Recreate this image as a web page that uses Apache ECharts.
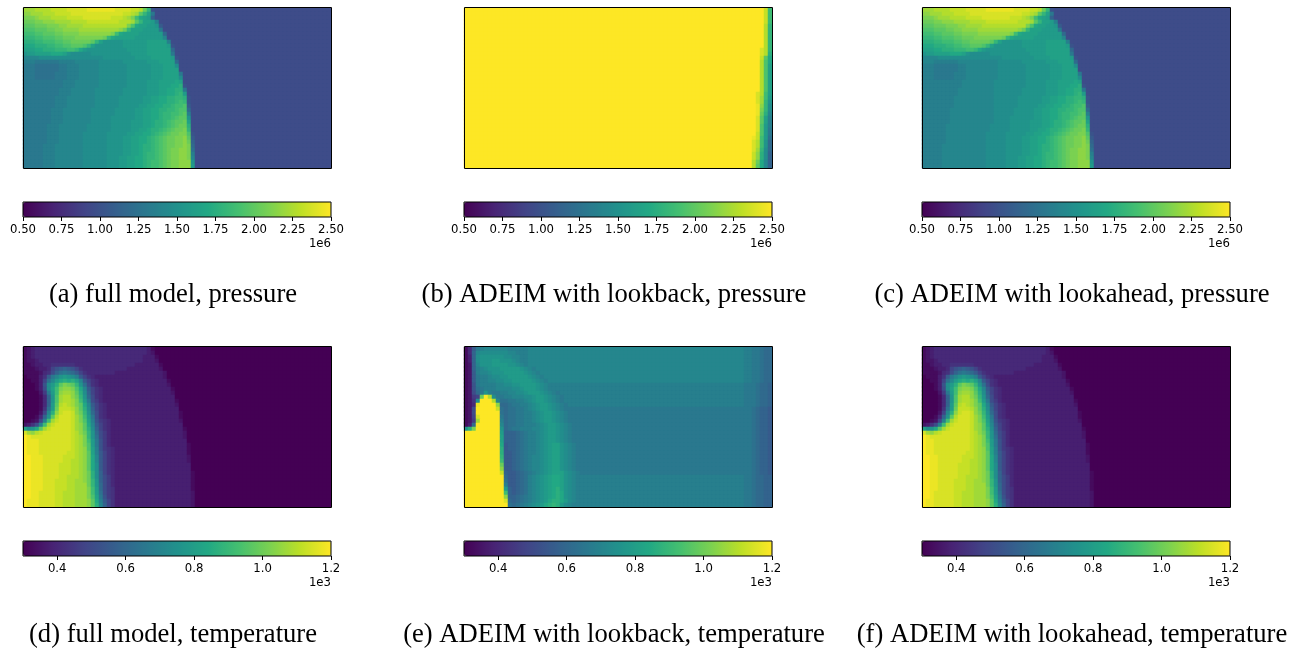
<!DOCTYPE html>
<html><head><meta charset="utf-8">
<style>html,body{margin:0;padding:0;background:#fff}#c{width:1306px;height:648px}</style>
<script src="https://cdn.jsdelivr.net/npm/echarts@6/dist/echarts.min.js"></script>
</head><body><div id="c"></div>
<script>
// Field levels: one character per cell, base-36 (0..z = bottom..top of colour range); x{n} = run of n cells.
const pressureFull = [
"uuuvvvvwwwwxxxxxyyyyyyyxxxxwwvrn9","ttuuuvvvwwwwxxxxxxxxxxxxxwwvuqnke","ssstuuuvvvvwwwwxxxxxxxwwwvusolkjb","rrrsstttuuuuvvvvwwwwwwwwvvvuqnkkjf",
"qqqrrrsssttuuuuvvvvvvvvvvvsplkkjjia","pppqqqrrssttttuuuuuuuuuutrnkkkjjjje","oooppqqqrrssssttttttttsolkkkkjjjjjjc","nnnoopppqqrrrsssssssrnlkkkkkjjjjjjjg",
"mmmnnoooppqqrrrrrqnkiiiiijjjjjjkkkkkf","lllmmmnnooppqqqpnkiiiiiiijjjjjjkkkkkj9","kkkllmmmnnnoonljiiiiiiiiiijjjjjkkkkkkc","ijjkkkklllkihhhhhiiiiiiiiiijjjjkkkkkke",
"gggghhhhhhhhhhhhhhhhiiiiiiiijjjjkkkkkj9","fffeeeeeeffffgggggghhhhhhiiiiiijjjkkkkc","eeeddddddeefffggggghhhhhhhiiiiiijjjkkkh","eeeddddddeefffggggghhhhhhhiiiiiijjjkkkk",
"eeedddddeeefffggggghhhhhhhiiiiiijjjkkkke","eeedddddeeefffggggghhhhhhhiiiiiijjjkkkkh","eeeeeeeeeefffgggggghhhhhhhiiiiijjjkkkklk","eeeeeeeeeefffgggggghhhhhhhiiiiijjjkkkllm9",
"eeeeeeeeefffgggggghhhhhhhiiiiiijjjkkllmme","eeeeeeeeefffgggggghhhhhhhiiiiiijjjkkllmnj","eeeeeeeefffggggggghhhhhhiiiiiijjkkllmmnnm9","eeeeeeeefffggggggghhhhhhiiiiiijjkkllmmnon9",
"eeeeeeeefffggggggghhhhhhiiiiijjkkllmmnoopa","eeeeeeefffggggggghhhhhhiiiiijjkkllmmnnoppc","eeeeeeefffggggggghhhhhhiiiiijjkkllmnnoopqf","eeeeeeefffggggggghhhhhiiiiiijjkkllmnnopqqi",
"eeeeeeefffggggggghhhhhiiiiijjjkklmmnopqqrk","eeeeeefffggggggghhhhhhiiiiijjjkklmmnopqrrm","eeeeeefffggggggghhhhhhiiiiijjkklmmnopqrrsn","eeeeeefffgggggghhhhhhiiiiijjkkllmnopqrrssp9",
"eeeeeefffgggggghhhhhhiiiijjkkllmnopqrrsstqa","eeeeeefffgggggghhhhhhiiiijjkkllmnopqrrsstrb","eeeeefffggggggghhhhhhiiiijjkklmmnopqrrsstsc","eeeeefffggggggghhhhhhiiiijjkklmmnopqrssttsd",
"eeeeefffggggggghhhhhhiiiijjkklmnnopqrssttsf","eeeeefffggggggghhhhhhiiijjkkllmnnopqrssttsg","eeeeefffggggggghhhhhhiiijjkkllmnoopqrssttti","eeeeefffggggggghhhhhhiiijjkkllmnoopqrsstttj"];
const pressureLookback = [
"wo","wo","wo","wo","vn","vn","vn","vn","vn","vn","xvn","xvm","wql","vpl","vpk","vpk","vpk","vpk","vpk","vpk",
"vpk","xvok","xuoj","xuni","ytnh","ysnh","yrmg","xqkf","xqkf","xpjf","xpje","wpje","ywojd","xvoic","xvoic","xunhc","wtmhb","wtmhb","vrlgb","vqlgb"];
const pressureLookahead = [
"uuuvvvvwwwwxxxxxyyyyyyyxxxxwwvrn9","ttuuuvvvwwwwxxxxxxxxxxxxxwwvuqnke","ssstuuuvvvvwwwwxxxxxxxwwwvusolkjb","rrrsstttuuuuvvvvwwwwwwwwvvvuqnkkjf",
"qqqrrrsssttuuuuvvvvvvvvvvvsplkkjjia","pppqqqrrssttttuuuuuuuuuutrnkkkjjjje","oooppqqqrrssssttttttttsolkkkkjjjjjjc","nnnoopppqqrrrsssssssrnlkkkkkjjjjjjjg",
"mmmnnoooppqqrrrrrqnkiiiiijjjjjjkkkkkf","lllmmmnnooppqqqpnkiiiiiiijjjjjjkkkkkj9","kkkllmmmnnnoonljiiiiiiiiiijjjjjkkkkkkc","ijjkkkklllkihhhhhiiiiiiiiiijjjjkkkkkke",
"gggghhhhhhhhhhhhhhhhiiiiiiiijjjjkkkkkj9","gggffffffgggggggggghhhhhhiiiiiijjjkkkkc","fffeeeeeeffgggggggghhhhhhhiiiiiijjjkkkh","fffeeeeeeffgggggggghhhhhhhiiiiiijjjkkkk",
"fffeeeeefffgggggggghhhhhhhiiiiiijjjkkkke","fffeeeeefffgggggggghhhhhhhiiiiiijjjkkkkh","ffffffffffgggggggghhhhhhhhiiiiijjjkkkklk","ffffffffffgggggggghhhhhhhhiiiiijjjkkkllm9",
"fffffffffggggggggghhhhhhhiiiiiijjjkkllmme","fffffffffggggggggghhhhhhhiiiiiijjjkkllmnj","ffffffffgggggggggghhhhhhiiiiiijjkkllmmnnm9","ffffffffgggggggggghhhhhhiiiiiijjkkllmmnon9",
"ffffffffgggggggggghhhhhhiiiiijjkkllmmnoopa","fffffffggggggggggghhhhhiiiiijjkkllmmnnoppc","fffffffggggggggggghhhhhiiiiijjkkllmnnoopqf","fffffffggggggggggghhhhiiiiiijjkkllmnnopqqi",
"fffffffggggggggggghhhhiiiiijjjkklmmnopqqrk","ffffffggggggggggghhhhhiiiiijjjkklmmnopqrrm","ffffffggggggggggghhhhhiiiiijjkklmmnopqrrsn","ffffffgggggggggghhhhhiiiiijjkkllmnopqrrssp9",
"ffffffgggggggggghhhhhiiiijjkkllmnopqrrsstqa","ffffffgggggggggghhhhhiiiijjkkllmnopqrrsstrb","fffffggggggggggghhhhhiiiijjkklmmnopqrrsstsc","fffffggggggggggghhhhhiiiijjkklmmnopqrssttsd",
"fffffggggggggggghhhhhiiiijjkklmnnopqrssttsf","fffffggggggggggghhhhhiiijjkkllmnnopqrssttsg","fffffggggggggggghhhhhiiijjkkllmnoopqrssttti","fffffggggggggggghhhhhiiijjkkllmnoopqrsstttj"];
const temperatureFull = [
"1234{28}31","1234{28}32","1234{27}3{3}1","12234{26}3{3}2",
"112334455555544{14}3{6}1","1112334"+"79aba975"+"4{11}3{8}2","111124"+"58bdedca75"+"4{7}3{12}2","011135aegijihfa754"+"3{17}2",
"001137dgjlmlmkga754"+"3{17}1","000139hjmqsrqnid854"+"3{17}2","000138hkosttsplga754"+"3{17}1","000026ejotuutqmhb754"+"3{17}2",
"000014bipuvvtrnic854"+"3{18}","000014bipuvvusoje864"+"3{18}1","000014bjqvwvusqlga754"+"3{17}2","000015djrwwwvtqmhb754"+"3{18}",
"000027gmtwxxwtrnic854"+"3{18}1","00014biqvxxxwusoje854"+"3{18}1","00127fouwxxxwuspkf9654"+"3{17}2","2358fouwxxxxwutqlga754"+"3{18}",
"khilquwxxxxxwutqmhb754"+"3{18}1","xutvwxxxxxxxwvtrnic864"+"3{18}2","zyxxxxxxxxxxwvusnid864"+"3{18}2","zyyyxxxxxxxxwvusoje964"+"3{19}",
"zyyyxxxxxxxxwvuspje964"+"3{19}1","zyyyxxxxxxxxwvutpkf9654"+"3{18}1","zyyyxxxxxxxwwvutqkfa754"+"3{18}1","zzyyyxxxxxwwwvutqlga754"+"3{18}2",
"zzyyyxxxxxwwvvutqlga754"+"3{18}2","zzyyyxxxxwwwvvutqlha754"+"3{19}","zzyyyxxxxwwwvvutqlha754"+"3{19}","zzyyyxxxxwwwvvutrmhb754"+"3{19}1",
"zzyyyxxxxwwvvvutrmhb864"+"3{19}1","zzyyyxxxwwwvvuutrnib864"+"3{19}1","zzyyyxxxwwwvvuuurnic864"+"3{19}1","zzyyyxxxwwwvvuuusojc865"+"3{19}1",
"zzyyxxxxwwvvvuuusojd865"+"3{19}2","zzyyxxxxwwvvvuuuspke965"+"3{19}2","zyyyxxxxwwvvvuuutqlfa75"+"3{19}2","zyyyxxxxwwvvvuuutqmgb75"+"3{19}2"];
const temperatureLookback = [
"14aefggggggfffff"+"g{52}ggffeedcc","14bghhhhhhhggfff"+"g{52}ggffeedcc","13bhiiiiiihhggff"+"g{52}ggffeedcc","13bhiiijjiiihgff"+"g{52}ggffeedcc",
"12bgiiijjjjiihgf"+"g{52}ggffeedcc","12bfghiiijjjjjihgf"+"g{50}ggffeedcc","12afgghiiijjjjjihgf"+"g{49}ggffeedcc","12aeffghhiijjjjjihgf"+"g{48}ggffeedcc",
"12aeffgghhiijjjjjihgf"+"g{47}ggffeedcc","129effffgghhiijjjjihgf"+"f{46}ffeeedccb","129defffgggghhijjjihgf"+"f{46}ffeeedccb","128ceifeeffgghhijjjihgfe"+"f{44}ffeeedccb",
"1267rzvheeffggghhijjihgfe"+"f{43}ffeeedccb","125hzzzvgddeeffghijjihgfe"+"f{43}ffeeedccb","124yzzzztccdeeffghijjihgfe"+"f{42}ffeeedccb","128zzzzzwdcddeefghijjihgfe"+"e{42}eeeedcbba",
"128zzzzzzdcddeeffghijjihgfe"+"e{41}eeeedcbba","127xzzzzzecddeeffghijjihgfe"+"e{41}eeeedcbba","126uzzzzzfcddeeffghijjihgfe"+"e{41}eeeedcbba","13czzzzzzgcddeefffghijjihgfe"+"e{40}eeeedcbba",
"imszzzzzzicdeefffgghijjihgfe"+"e{40}eeeedcbba","zzzzzzzzzjbbbcdeffghijjihgfe"+"e{40}eeeedcbba","zzzzzzzzzkbbbcdeffghijjihgfe"+"e{40}eeeedcbba","zzzzzzzzzkbbbcdeffghijjihgfe"+"e{40}eeeedcbba",
"zzzzzzzzzlabbcdeffghijkkihgfe"+"e{39}eeeedcbba","zzzzzzzzzmabbcdeffghijkkihgfe"+"e{39}eeeedcbba","zzzzzzzzzmaabcdeffghijkkihgfe"+"e{39}eeeedcbba","zzzzzzzzznaabcdefgghijkkihgfe"+"e{39}eeeedcbba",
"zzzzzzzzzoaabcdefgghijkkihgfe"+"e{39}eeeedcbba","zzzzzzzzzraabcdefgghijkkihgfe"+"e{39}eeeedcbba","zzzzzzzzztaabcdefgghijkkihgfe"+"e{39}eeeedcbba","zzzzzzzzzwbaabcdefghijkkkihgf"+"e{39}eeeedcbba",
"zzzzzzzzzzcaabcdfghijkllkihgf"+"f{39}ffeedccbb","zzzzzzzzzzdaabcdfghijkllkihgf"+"f{39}ffeedccbb","zzzzzzzzzzfaabcdfghijkllkihgf"+"f{39}ffeedccbb","zzzzzzzzzzjbabcdfghijklmkihgf"+"f{39}ffeedccbb",
"zzzzzzzzzzobabcdfghijklmlihgf"+"f{39}ffeedccbb","zzzzzzzzzztbbcdefghijklmlihgf"+"f{39}ffeedccbb","zzzzzzzzzzxcbcdefghijlmmljhgf"+"f{39}ffeedccbb","zzzzzzzzzzzdcdefghijlmnmjhgf"+"f{40}ffeedccbb"];
const temperatureLookahead = [
"1234{28}31","1234{28}32","1234{27}3{3}1","12234{26}3{3}2",
"112334455555544{14}3{6}1","1112334"+"79aba975"+"4{11}3{8}2","111124"+"58bdedca75"+"4{7}3{12}2","011135aegijihfa754"+"3{17}2",
"001137dgjlmlmkga754"+"3{17}1","000139hjmqsrqnid854"+"3{17}2","000138hkosttsplga754"+"3{17}1","000026ejotuutqmhb754"+"3{17}2",
"000014bipuvvtrnic854"+"3{18}","000014bipuvvusoje864"+"3{18}1","000014bjqvwvusqlga754"+"3{17}2","000015djrwwwvtqmhb754"+"3{18}",
"000027gmtwxxwtrnic854"+"3{18}1","00014biqvxxxwusoje854"+"3{18}1","00127fouwxxxwuspkf9654"+"3{17}2","2358fouwxxxxwutqlga754"+"3{18}",
"khilquwxxxxxwutqmhb754"+"3{18}1","xutvwxxxxxxxwvtrnic864"+"3{18}2","zyxxxxxxxxxxwvusnid864"+"3{18}2","zyyxxxxxxxxxwvusoje964"+"3{19}",
"zyyxxxxxxxxxwvuspje964"+"3{19}1","zyyxxxxxxxxxwvutpkf9654"+"3{18}1","zyyxxxxxxxxwwvutqkfa754"+"3{18}1","zzyyxxxxxxwwwvutqlga754"+"3{18}2",
"zzyyxxxxxxwwvvutqlga754"+"3{18}2","zzyyxxxxxwwwvvutqlha754"+"3{19}","zzyyxxxxxwwwvvutqlha754"+"3{19}","zzyyxxxxxwwwvvutrmhb754"+"3{19}1",
"zzyyxxxxxwwvvvutrmhb864"+"3{19}1","zzyyxxxxwwwvvuutrnib864"+"3{19}1","zzyyxxxxwwwvvuuurnic864"+"3{19}1","zzyyxxxxwwwvvuuusojc865"+"3{19}1",
"zzyxxxxxwwvvvuuusojd865"+"3{19}2","zzyxxxxxwwvvvuuuspke965"+"3{19}2","zyyxxxxxwwvvvuuutqlfa75"+"3{19}2","zyyxxxxxwwvvvuuutqmgb75"+"3{19}2"];
const pressureTicks = [0.5,0.75,1,1.25,1.5,1.75,2,2.25,2.5];
const temperatureTicks = [0.4,0.6,0.8,1,1.2];
const captions = ["(a) full model, pressure","(b) ADEIM with lookback, pressure","(c) ADEIM with lookahead, pressure",
"(d) full model, temperature","(e) ADEIM with lookback, temperature","(f) ADEIM with lookahead, temperature"];
const viridis = ["#440154","#482475","#414487","#355f8d","#2a788e","#21918c","#22a884","#44bf70","#7ad151","#bddf26","#fde725"];

const LEVELS = "0123456789abcdefghijklmnopqrstuvwxyz";
const COLS = 77, ROWS = 40;
const cats = n => Array.from({length:n},(_,i)=>i);
function decode(rows, lo, hi, fill, fromRight){
  const out=[];
  rows.forEach((s,r)=>{
    const x = s.replace(/(.)\{(\d+)\}/g,(m,c,n)=>c.repeat(+n));
    const t = (fromRight ? x.padStart(COLS,fill) : x.padEnd(COLS,fill)).slice(0,COLS);
    for(let c=0;c<COLS;c++) out.push([c,r,+(lo+(hi-lo)*LEVELS.indexOf(t[c])/35).toFixed(4)]);
  });
  return out;
}
const panels = [
 {rows:pressureFull,lo:0.5,hi:2.5,fill:"8",ticks:pressureTicks,dec:2,exp:"1e6",col:0,row:0},
 {rows:pressureLookback,lo:0.5,hi:2.5,fill:"z",right:true,ticks:pressureTicks,dec:2,exp:"1e6",col:1,row:0},
 {rows:pressureLookahead,lo:0.5,hi:2.5,fill:"8",ticks:pressureTicks,dec:2,exp:"1e6",col:2,row:0},
 {rows:temperatureFull,lo:0.3,hi:1.2,fill:"0",ticks:temperatureTicks,dec:1,exp:"1e3",col:0,row:1},
 {rows:temperatureLookback,lo:0.3,hi:1.2,fill:"b",ticks:temperatureTicks,dec:1,exp:"1e3",col:1,row:1},
 {rows:temperatureLookahead,lo:0.3,hi:1.2,fill:"0",ticks:temperatureTicks,dec:1,exp:"1e3",col:2,row:1}
];
const lefts=[23,464,922], W=308, H=161, tops=[7,346], barOff=195, barH=15;
const capX=[173,614,1072], capY=[296,636];
const grid=[],xAxis=[],yAxis=[],series=[],visualMap=[],graphic=[];
panels.forEach((p,i)=>{
  const L=lefts[p.col],T=tops[p.row],g=i*3;
  // field (whole pixels per cell)
  grid.push({left:L,top:T+1,width:W,height:160});
  xAxis.push({type:"category",gridIndex:g,data:cats(COLS),show:false});
  yAxis.push({type:"category",gridIndex:g,data:cats(ROWS),show:false,inverse:true});
  series.push({type:"heatmap",xAxisIndex:g,yAxisIndex:g,data:decode(p.rows,p.lo,p.hi,p.fill,p.right),progressive:0,emphasis:{disabled:true},itemStyle:{borderWidth:0}});
  // frame
  grid.push({left:L+0.5,top:T+0.5,width:W,height:H,show:true,borderColor:"#000",borderWidth:1,backgroundColor:"transparent",z:5});
  xAxis.push({type:"value",gridIndex:g+1,min:0,max:1,show:false});
  yAxis.push({type:"value",gridIndex:g+1,min:0,max:1,show:false});
  // colour bar axis
  grid.push({left:L,top:T+barOff,width:W,height:barH,show:true,borderColor:"#000",borderWidth:1,backgroundColor:"transparent",z:5});
  xAxis.push({type:"value",gridIndex:g+2,min:p.lo,max:p.hi,splitLine:{show:false},
    axisLine:{show:false},
    axisTick:{show:true,length:4,customValues:p.ticks,lineStyle:{color:"#000",width:1}},
    axisLabel:{show:true,margin:7,color:"#000",fontFamily:"DejaVu Sans",fontSize:11.7,customValues:p.ticks,formatter:v=>(+v).toFixed(p.dec)}});
  yAxis.push({type:"category",gridIndex:g+2,data:[0],show:false});
  visualMap.push({type:"continuous",seriesIndex:i,min:p.lo,max:p.hi,left:L,top:T+barOff,orient:"horizontal",itemWidth:barH,itemHeight:W,padding:0,
    calculable:false,realtime:false,text:null,showLabel:false,inRange:{color:viridis},z:4});
  graphic.push({type:"text",x:L+W,y:T+barOff+barH+21,style:{text:p.exp,textAlign:"right",fill:"#000",font:"11.7px 'DejaVu Sans'"}});
  graphic.push({type:"text",x:capX[p.col],y:capY[p.row]-14,style:{text:captions[i],textAlign:"center",fill:"#000",font:"26.6px 'Liberation Serif'"}});
});
const chart=echarts.init(document.getElementById("c"),null,{renderer:"canvas"});
chart.setOption({animation:false,backgroundColor:"#fff",grid,xAxis,yAxis,series,visualMap,graphic});
</script></body></html>
